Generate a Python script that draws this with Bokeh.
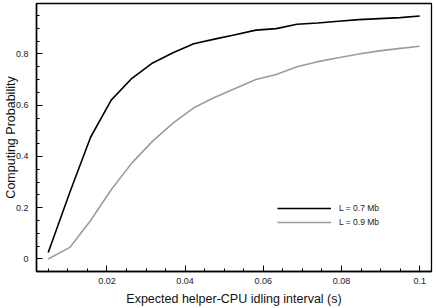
from bokeh.plotting import figure
from bokeh.models import Range1d, FixedTicker, Legend, LegendItem
from bokeh.embed import file_html
from bokeh.resources import INLINE

# Data
interval = [0.005, 0.01053, 0.01583, 0.0211, 0.0264, 0.0317, 0.0369, 0.0422, 0.0475,
            0.0528, 0.0581, 0.0633, 0.0686, 0.0739, 0.0792, 0.0844, 0.0897, 0.095, 0.1]
prob_07 = [0.025, 0.26, 0.475, 0.62, 0.705, 0.765, 0.805, 0.84, 0.858,
           0.875, 0.893, 0.899, 0.916, 0.921, 0.928, 0.934, 0.938, 0.942, 0.948]
prob_09 = [0.0, 0.045, 0.15, 0.27, 0.375, 0.46, 0.53, 0.59, 0.63,
           0.665, 0.70, 0.72, 0.75, 0.77, 0.785, 0.80, 0.812, 0.822, 0.83]
series_labels = ["L = 0.7 Mb", "L = 0.9 Mb"]

x_ticks = [0.02, 0.04, 0.06, 0.08, 0.1]
x_tick_labels = ["0.02", "0.04", "0.06", "0.08", "0.1"]
x_minor = [0.005, 0.01, 0.015, 0.025, 0.03, 0.035, 0.045, 0.05, 0.055,
           0.065, 0.07, 0.075, 0.085, 0.09, 0.095, 0.1]
y_ticks = [0, 0.2, 0.4, 0.6, 0.8]
y_tick_labels = ["0", "0.2", "0.4", "0.6", "0.8"]
y_minor = [-0.05, 0.05, 0.1, 0.15, 0.25, 0.3, 0.35, 0.45, 0.5, 0.55, 0.65, 0.7, 0.75,
           0.85, 0.9, 0.95]

FONT = "Liberation Sans"

p = figure(width=436, height=308, output_backend="svg", toolbar_location=None, title=None,
           x_range=Range1d(0.002, 0.103), y_range=Range1d(-0.049, 0.997),
           min_border_left=0, min_border_right=5, min_border_top=3, min_border_bottom=0)
p.grid.visible = False
p.outline_line_color = "black"
p.outline_line_width = 1.3
p.background_fill_color = "white"
p.border_fill_color = "white"

p.xaxis.ticker = FixedTicker(ticks=x_ticks, minor_ticks=x_minor)
p.xaxis.major_label_overrides = {t: l for t, l in zip(x_ticks, x_tick_labels)}
p.yaxis.ticker = FixedTicker(ticks=y_ticks, minor_ticks=y_minor)
p.yaxis.major_label_overrides = {t: l for t, l in zip(y_ticks, y_tick_labels)}

p.xaxis.axis_label = "Expected helper-CPU idling interval (s)"
p.yaxis.axis_label = "Computing Probability"

for ax in (p.xaxis, p.yaxis):
    ax.axis_line_color = "black"
    ax.axis_line_width = 1.5
    ax.major_tick_in = 6
    ax.major_tick_out = 0
    ax.minor_tick_in = 3
    ax.minor_tick_out = 0
    ax.major_tick_line_color = "black"
    ax.minor_tick_line_color = "black"
    ax.major_label_text_font = FONT
    ax.major_label_text_font_size = "9px"
    ax.major_label_text_color = "#222222"
    ax.axis_label_text_font = FONT
    ax.axis_label_text_font_size = "12.5px"
    ax.axis_label_text_font_style = "normal"
    ax.axis_label_text_color = "#111111"

p.xaxis.major_label_standoff = 6
p.xaxis.axis_label_standoff = 5
p.yaxis.major_label_standoff = 8
p.yaxis.axis_label_standoff = -5

r1 = p.line(interval, prob_07, line_color="black", line_width=1.6)
r2 = p.line(interval, prob_09, line_color="#9c9c9c", line_width=1.6)

legend = Legend(items=[LegendItem(label=series_labels[0], renderers=[r1]),
                       LegendItem(label=series_labels[1], renderers=[r2])],
                location=(241, 42))
legend.border_line_color = None
legend.background_fill_alpha = 0
legend.padding = 0
legend.margin = 0
legend.spacing = 0
legend.glyph_width = 54
legend.glyph_height = 14
legend.label_height = 14
legend.label_standoff = 8
legend.label_text_font = FONT
legend.label_text_font_size = "8.5px"
legend.label_text_color = "#222222"
p.add_layout(legend)

open("out.html", "w").write(file_html(p, INLINE))
